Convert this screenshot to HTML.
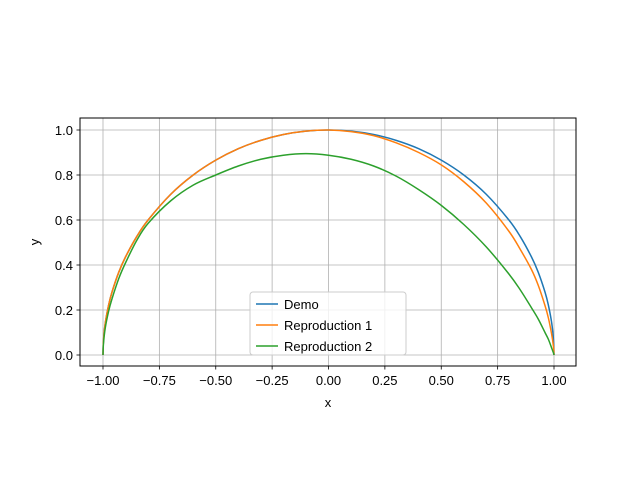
<!DOCTYPE html>
<html><head><meta charset="utf-8"><style>
body{margin:0;background:#fff}
svg text{font-family:"Liberation Sans","DejaVu Sans",sans-serif;font-size:13px;fill:#000}
</style></head><body>
<svg id="chart" width="640" height="480" xmlns="http://www.w3.org/2000/svg">
<rect width="640" height="480" fill="#fff"/>
<g id="grid"></g><g id="series"></g>
<rect x="80" y="118" width="496" height="248" fill="none" stroke="#000" stroke-width="1"/>
<g id="ticks"></g>
<text x="328" y="407" text-anchor="middle">x</text>
<text x="0" y="0" text-anchor="middle" transform="translate(39,242) rotate(-90)">y</text>
<g>
<rect x="250" y="292" width="156" height="63" rx="3" fill="#fff" fill-opacity="0.8" stroke="#ccc"/>
<g><line x1="256" y1="304" x2="278" y2="304" stroke="#1f77b4" stroke-width="1.5"/><text x="284" y="309">Demo</text></g>
<g><line x1="256" y1="325" x2="278" y2="325" stroke="#ff7f0e" stroke-width="1.5"/><text x="284" y="330">Reproduction 1</text></g>
<g><line x1="256" y1="346" x2="278" y2="346" stroke="#2ca02c" stroke-width="1.5"/><text x="284" y="351">Reproduction 2</text></g>
</g>
</svg>
<script>
const xs=[-1,-0.998,-0.99,-0.975,-0.96,-0.93,-0.9,-0.85,-0.8,-0.7,-0.6,-0.5,-0.4,-0.3,-0.2,-0.1,0,0.1,0.2,0.3,0.4,0.5,0.6,0.7,0.8,0.85,0.9,0.93,0.96,0.975,0.99,0.998,1];
const demo=[0,0.063,0.141,0.222,0.28,0.368,0.436,0.527,0.6,0.714,0.8,0.866,0.917,0.954,0.98,0.995,1,0.995,0.98,0.954,0.917,0.866,0.8,0.714,0.6,0.527,0.436,0.368,0.28,0.222,0.141,0.063,0];
const rep1=[0,0.063,0.141,0.222,0.28,0.368,0.436,0.527,0.6,0.714,0.8,0.866,0.917,0.954,0.98,0.995,1,0.993,0.975,0.943,0.9,0.845,0.77,0.675,0.55,0.47,0.38,0.31,0.22,0.165,0.09,0.035,0];
const rep2=[0,0.05,0.12,0.195,0.25,0.34,0.41,0.51,0.585,0.685,0.755,0.80,0.84,0.87,0.888,0.895,0.888,0.87,0.84,0.795,0.735,0.665,0.58,0.48,0.36,0.29,0.21,0.16,0.10,0.07,0.03,0.008,0];
const xTicks=[-1,-0.75,-0.5,-0.25,0,0.25,0.5,0.75,1];
const xTickLabels=["−1.00","−0.75","−0.50","−0.25","0.00","0.25","0.50","0.75","1.00"];
const yTicks=[0,0.2,0.4,0.6,0.8,1];
const yTickLabels=["0.0","0.2","0.4","0.6","0.8","1.0"];
const NS="http://www.w3.org/2000/svg";
const X=v=>328.5+v*225.5, Y=v=>355-v*225;
function mk(t,a,p){const e=document.createElementNS(NS,t);for(const k in a)e.setAttribute(k,a[k]);p.appendChild(e);return e;}
const grid=document.getElementById('grid'),ticks=document.getElementById('ticks'),ser=document.getElementById('series');
xTicks.forEach((v,i)=>{
 const g=mk('line',{x1:X(v),x2:X(v),y1:118,y2:366,stroke:'#b0b0b0','stroke-width':0.8},grid);
 
 
 mk('line',{x1:X(v),x2:X(v),y1:366,y2:369.5,stroke:'#000','stroke-width':0.8},ticks);
 const t=mk('text',{x:X(v),y:385,'text-anchor':'middle'},ticks);t.textContent=xTickLabels[i];
 
 
});
yTicks.forEach((v,i)=>{
 const g=mk('line',{x1:80,x2:576,y1:Y(v),y2:Y(v),stroke:'#b0b0b0','stroke-width':0.8},grid);
 
 
 mk('line',{x1:76.5,x2:80,y1:Y(v),y2:Y(v),stroke:'#000','stroke-width':0.8},ticks);
 const t=mk('text',{x:73,y:Y(v)+5,'text-anchor':'end'},ticks);t.textContent=yTickLabels[i];
 
 
});
function spline(P){
 let d='M'+P[0][0]+','+P[0][1];
 for(let i=0;i<P.length-1;i++){
  const p0=P[Math.max(0,i-1)],p1=P[i],p2=P[i+1],p3=P[Math.min(P.length-1,i+2)];
  const c1=[p1[0]+(p2[0]-p0[0])/6,p1[1]+(p2[1]-p0[1])/6],c2=[p2[0]-(p3[0]-p1[0])/6,p2[1]-(p3[1]-p1[1])/6];
  d+=' C'+c1[0]+','+c1[1]+' '+c2[0]+','+c2[1]+' '+p2[0]+','+p2[1];
 }
 return d;
}
[[demo,'#1f77b4','demo-line'],[rep1,'#ff7f0e','reproduction-1-line'],[rep2,'#2ca02c','reproduction-2-line']].forEach(([d,c,n])=>{
 const p=mk('path',{d:spline(xs.map((x,i)=>[X(x),Y(d[i])])),fill:'none',stroke:c,'stroke-width':1.5,'stroke-linejoin':'round'},ser);
 
 
});
</script>
</body></html>
